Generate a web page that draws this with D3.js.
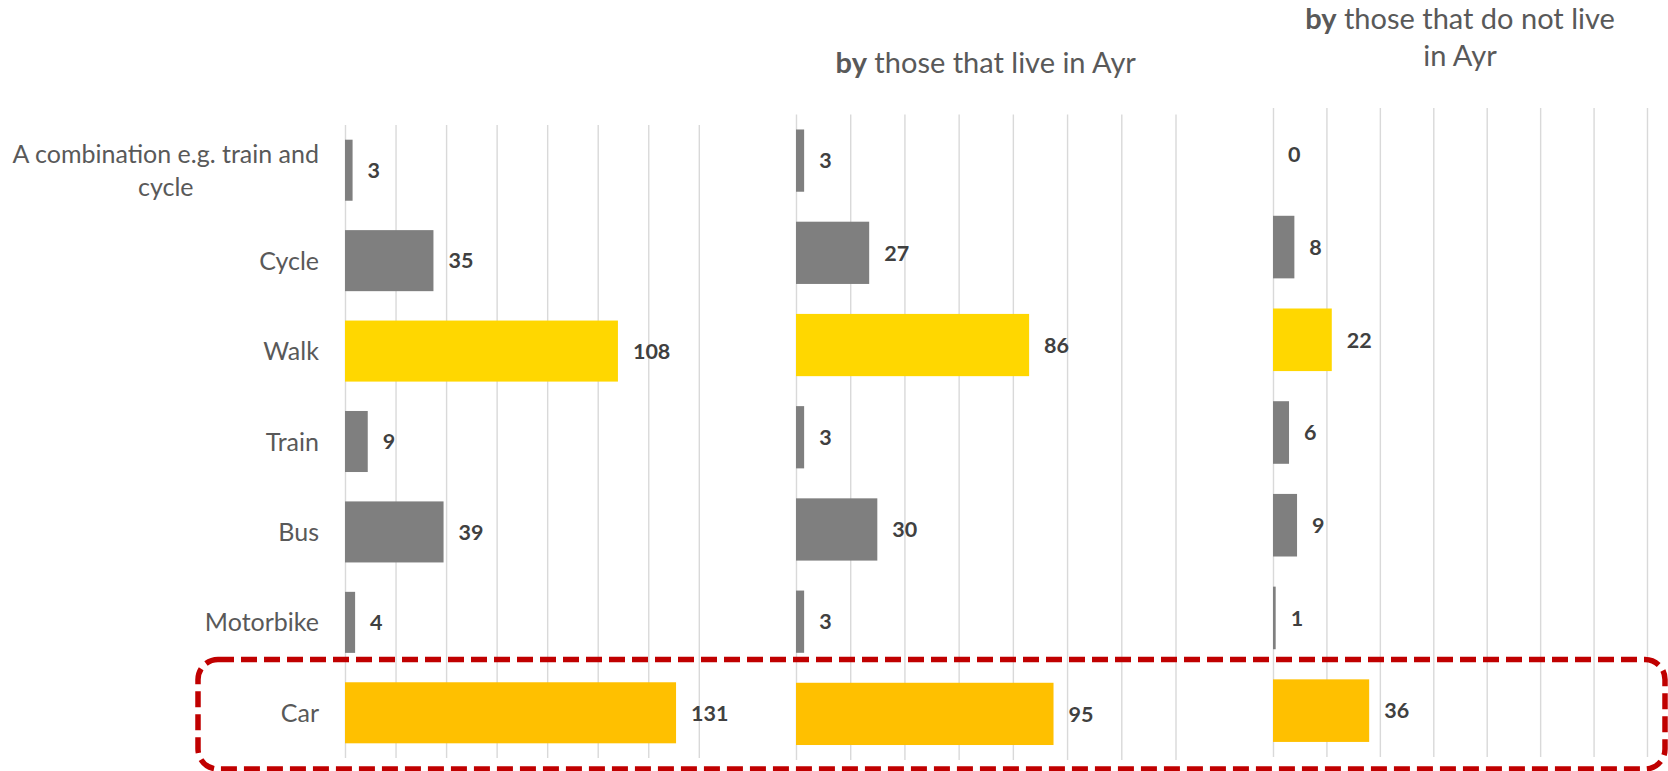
<!DOCTYPE html>
<html>
<head>
<meta charset="utf-8">
<script src="https://cdn.jsdelivr.net/npm/d3@7"></script>
<style>
  html, body { margin: 0; padding: 0; background: #fff; }
  svg { display: block; }
</style>
</head>
<body>
<svg id="chart" width="1668" height="771"></svg>
<script>
// ---- data ----
const categories = ["A combination e.g. train and cycle", "Cycle", "Walk", "Train", "Bus", "Motorbike", "Car"];
const categoryLabelLines = [["A combination e.g. train and", "cycle"], ["Cycle"], ["Walk"], ["Train"], ["Bus"], ["Motorbike"], ["Car"]];
const allRespondents = [3, 35, 108, 9, 39, 4, 131];
const liveInAyr = [3, 27, 86, 3, 30, 3, 95];
const notLiveInAyr = [0, 8, 22, 6, 9, 1, 36];
const panelTitles = [[], [["by", " those that live in Ayr"]], [["by", " those that do not live"], ["", "in Ayr"]]];
const xTickValues = [0, 20, 40, 60, 80, 100, 120, 140];

// ---- layout / style ----
const svg = d3.select("#chart");
const FONT = "Lato, 'Open Sans', sans-serif";
const gray = "#7F7F7F", walkYellow = "#FFD700", carGold = "#FFC000";
const color = d3.scaleOrdinal().domain(categories)
  .range([gray, gray, walkYellow, gray, gray, gray, carGold]);

const panels = [
  { values: allRespondents, x0: 345, x1: 698.8, top: 125, bottom: 758, title: panelTitles[0], titleY: 0 },
  { values: liveInAyr, x0: 796, x1: 1175.5, top: 114.5, bottom: 760, title: panelTitles[1], titleY: 73 },
  { values: notLiveInAyr, x0: 1273, x1: 1647, top: 108, bottom: 757, title: panelTitles[2], titleY: 29 }
];

panels.forEach((p, pi) => {
  const x = d3.scaleLinear().domain([0, 140]).range([p.x0, p.x1]);
  const y = d3.scaleBand().domain(categories).range([p.top, p.bottom]).paddingInner(0.325).paddingOuter(0.1625);
  const g = svg.append("g");

  // gridlines via axis
  const grid = g.append("g")
    .attr("transform", `translate(0,${p.bottom})`)
    .call(d3.axisBottom(x).tickValues(xTickValues).tickSize(-(p.bottom - p.top)).tickFormat(""));
  grid.select(".domain").remove();
  grid.selectAll(".tick line").attr("stroke", "#D9D9D9").attr("stroke-width", 1.4);

  // bars
  g.selectAll("rect.bar").data(p.values).enter().append("rect")
    .attr("class", "bar")
    .attr("x", x(0))
    .attr("y", (d, i) => y(categories[i]))
    .attr("width", d => x(d) - x(0))
    .attr("height", y.bandwidth())
    .attr("fill", (d, i) => color(categories[i]));

  // data labels
  g.selectAll("text.val").data(p.values).enter().append("text")
    .attr("class", "val")
    .attr("x", d => x(d) + 15)
    .attr("y", (d, i) => y(categories[i]) + y.bandwidth() / 2)
    .attr("dy", "0.36em")
    .attr("font-family", FONT).attr("font-weight", 700).attr("font-size", 21.5)
    .attr("fill", "#404040")
    .text(d => d);

  // category labels (first panel only)
  if (pi === 0) {
    categoryLabelLines.forEach((lines, i) => {
      const cy = y(categories[i]) + y.bandwidth() / 2;
      const lh = 33;
      const t = g.append("text")
        .attr("font-family", FONT).attr("font-size", 25).attr("fill", "#595959")
        .attr("text-anchor", "middle");
      lines.forEach((ln, k) => {
        t.append("tspan").attr("x", 0).attr("y", cy + (k - (lines.length - 1) / 2) * lh).attr("dy", "0.36em").text(ln);
      });
      const w = t.node().getBBox().width;
      t.selectAll("tspan").attr("x", p.x0 - 26 - w / 2);
    });
  }

  // title
  if (p.title.length) {
    const cx = (p.x0 + p.x1) / 2;
    p.title.forEach((parts, k) => {
      const t = g.append("text")
        .attr("x", cx).attr("y", p.titleY + k * 37)
        .attr("text-anchor", "middle")
        .attr("font-family", FONT).attr("font-size", 29).attr("fill", "#595959");
      if (parts[0]) t.append("tspan").attr("font-weight", 700).text(parts[0]);
      t.append("tspan").text(parts[1]);
    });
  }
});

// red dashed highlight around the Car row
svg.append("rect")
  .attr("x", 198).attr("y", 659.5)
  .attr("width", 1665 - 198).attr("height", 769 - 659.5)
  .attr("rx", 20).attr("ry", 20)
  .attr("fill", "none")
  .attr("stroke", "#C00000").attr("stroke-width", 5.5)
  .attr("stroke-dasharray", "16 7");
</script>
</body>
</html>
